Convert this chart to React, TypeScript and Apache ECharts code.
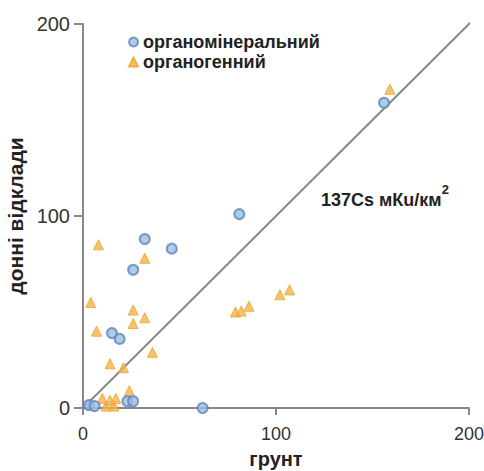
import React, { useEffect, useRef } from "react";
import * as echarts from "echarts";

const seriesNames = ["органомінеральний", "органогенний"];
const organoMineral: [number, number][] = [
  [156, 159], [81, 101], [32, 88], [46, 83], [26, 72], [15, 39], [19, 36],
  [3, 1.5], [6, 1], [23, 3.5], [26, 3.5], [62, 0],
];
const organoGenic: [number, number][] = [
  [159, 166], [8, 85], [32, 78], [4, 55], [26, 51], [32, 47], [26, 44], [7, 40],
  [36, 29], [14, 23], [21, 21], [24, 9], [10, 5], [12, 1], [14, 4], [16, 1], [17, 5],
  [79, 50], [82, 50.5], [86, 53], [102, 59], [107, 61.5],
];
const fitLine: [number, number][] = [[0, 0], [205, 205]];
const axisNames = { x: "грунт", y: "донні відклади" };
const annotation = "137Cs мКu/км";

export default function App() {
  const ref = useRef<HTMLDivElement>(null);
  useEffect(() => {
    if (!ref.current) return;
    const chart = echarts.init(ref.current, null, { renderer: "svg" });
    const font = "Liberation Sans, Arial, sans-serif";
    chart.setOption({
      animation: false,
      backgroundColor: "#fff",
      textStyle: { fontFamily: font },
      grid: { left: 83, right: 15, top: 24, bottom: 63, containLabel: false, outerBoundsMode: "none" },
      legend: {
        left: 123,
        top: 28,
        orient: "vertical",
        itemGap: 2,
        itemWidth: 9,
        itemHeight: 9,
        textStyle: { fontSize: 18, fontWeight: "bold", color: "#222", fontFamily: font },
        data: seriesNames,
      },
      xAxis: {
        type: "value",
        min: 0,
        max: 200,
        interval: 100,
        name: axisNames.x,
        nameLocation: "middle",
        nameGap: 41,
        nameTextStyle: { fontSize: 20, fontWeight: "bold", color: "#222" },
        axisLine: { lineStyle: { color: "#888", width: 2 } },
        axisTick: { show: true, length: 7, lineStyle: { color: "#888", width: 2 } },
        axisLabel: { fontSize: 18, color: "#333", margin: 17 },
        splitLine: { show: false },
      },
      yAxis: {
        type: "value",
        min: 0,
        max: 200,
        interval: 100,
        name: axisNames.y,
        nameLocation: "middle",
        nameGap: 47,
        nameRotate: 90,
        nameTextStyle: { fontSize: 21, fontWeight: "bold", color: "#222" },
        axisLine: { show: true, lineStyle: { color: "#888", width: 2 } },
        axisTick: { show: true, length: 9, lineStyle: { color: "#888", width: 2 } },
        axisLabel: { fontSize: 20, color: "#333", margin: 13 },
        splitLine: { show: false },
      },
      graphic: [
        {
          type: "text",
          left: 321,
          top: 183,
          style: {
            text: "{a|" + annotation + "}{s|2}",
            rich: {
              a: { fontSize: 18, fontWeight: "bold", fill: "#222", fontFamily: font, padding: [8, 0, 0, 0] },
              s: { fontSize: 13, fontWeight: "bold", fill: "#222", fontFamily: font, verticalAlign: "top" },
            },
          },
        },
      ],
      series: [
        {
          type: "line",
          data: fitLine,
          showSymbol: false,
          symbol: "none",
          clip: false,
          lineStyle: { color: "#8a8a8a", width: 2 },
          silent: true,
          z: 1,
        },
        {
          name: seriesNames[0],
          type: "scatter",
          data: organoMineral,
          symbol: "circle",
          symbolSize: 10,
          clip: false,
          itemStyle: { color: "#9dbde0", borderColor: "#5d86bd", borderWidth: 2 },
          z: 3,
        },
        {
          name: seriesNames[1],
          type: "scatter",
          data: organoGenic,
          symbol: "triangle",
          symbolSize: 10,
          clip: false,
          itemStyle: { color: "#f3b448", borderColor: "#eca02a", borderWidth: 1 },
          z: 2,
        },
      ],
    });
    return () => chart.dispose();
  }, []);
  return (
    <div
      ref={ref}
      style={{ position: "absolute", left: 0, top: 0, width: 484, height: 471 }}
    />
  );
}
